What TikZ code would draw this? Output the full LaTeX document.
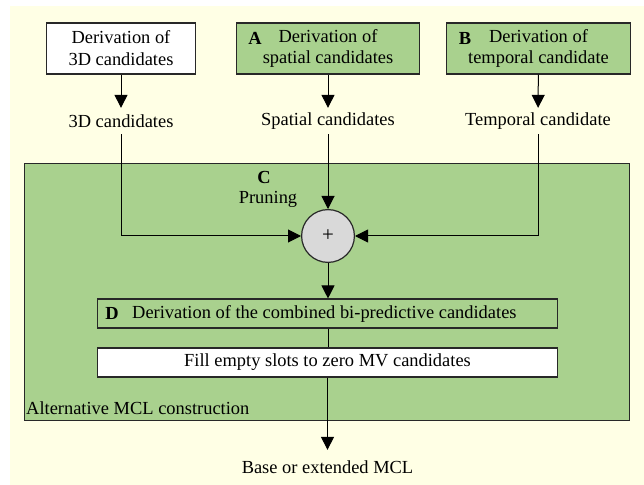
\documentclass[tikz,border=0pt]{standalone}
\usepackage{fontspec}
\setmainfont{Liberation Serif}
\newfontfamily\tnr{Liberation Serif}
\usetikzlibrary{arrows.meta}
\definecolor{bgyellow}{RGB}{255,255,229}
\definecolor{boxgreen}{RGB}{169,209,142}
\definecolor{circgray}{RGB}{217,217,217}
\definecolor{edgegray}{RGB}{40,40,40}
\newcommand\fs{\tnr\fontsize{18.5}{22}\selectfont}
\begin{document}
\begin{tikzpicture}[x=1bp,y=-1bp, font=\fs,
  box/.style={draw=edgegray, line width=1.2bp, inner sep=0pt, align=center},
  lbl/.style={inner sep=0pt, align=center},
  bold/.style={inner sep=0pt, font=\fs\bfseries},
  conn/.style={line width=1bp, draw=black},
  arr/.style={conn, -{Triangle[length=13bp,width=13bp]}}]
\useasboundingbox (0,0) rectangle (644,485);
\fill[bgyellow] (10,6) rectangle (644,485);
% big container
\node[box, fill=boxgreen, minimum width=608, minimum height=258] (alt) at (327,292) {};
\node[lbl, anchor=west] (altlbl) at (26,408) {Alternative MCL construction};
% top boxes
\node[box, fill=white, minimum width=150, minimum height=51] (b3d) at (121,48.5) {Derivation of\\3D candidates};
\node[box, fill=boxgreen, minimum width=184, minimum height=51] (bsp) at (328,48.5) {Derivation of\\spatial candidates};
\node[box, fill=boxgreen, minimum width=185, minimum height=51] (btm) at (538.5,48.5) {Derivation of\\temporal candidate};
\node[bold] (lA) at (255,38) {A};
\node[bold] (lB) at (465,38) {B};
% candidate labels
\node[lbl, minimum height=26] (t3d) at (121,121) {3D candidates};
\node[lbl, minimum height=26] (tsp) at (328,121) {Spatial candidates};
\node[lbl, minimum height=26] (ttm) at (538,121) {Temporal candidate};
% pruning
\node[bold] (lC) at (264,177) {C};
\node[lbl] (prun) at (268,199) {Pruning};
\node[draw=edgegray, line width=1.2bp, circle, fill=circgray, minimum size=53, inner sep=0pt, font=\tnr\fontsize{21}{24}\selectfont] (plus) at (328,236) {+};
% D box
\node[box, fill=boxgreen, minimum width=461, minimum height=29] (dbox) at (327.5,313.5) {};
\node[bold] (lD) at (112,313.5) {D};
\node[lbl, anchor=west] (dtxt) at (132,313.5) {Derivation of the combined bi-predictive candidates};
% fill box
\node[box, fill=white, minimum width=461, minimum height=29] (fbox) at (327.5,362.5) {Fill empty slots to zero MV candidates};
% output
\node[lbl, minimum height=34] (base) at (327.5,467) {Base or extended MCL};
% connectors
\draw[arr] (b3d) -- (t3d);
\draw[arr] (bsp) -- (tsp);
\draw[arr] (btm) -- (ttm);
\draw[arr] (t3d) |- (plus);
\draw[arr] (tsp.south) -- (plus.north);
\draw[arr] (ttm) |- (plus);
\draw[arr] (plus.south) -- (plus.south |- dbox.north);
\draw[conn] (plus.south |- dbox.south) -- (plus.south |- fbox.north);
\draw[arr] (fbox) -- (base);
\end{tikzpicture}
\end{document}
